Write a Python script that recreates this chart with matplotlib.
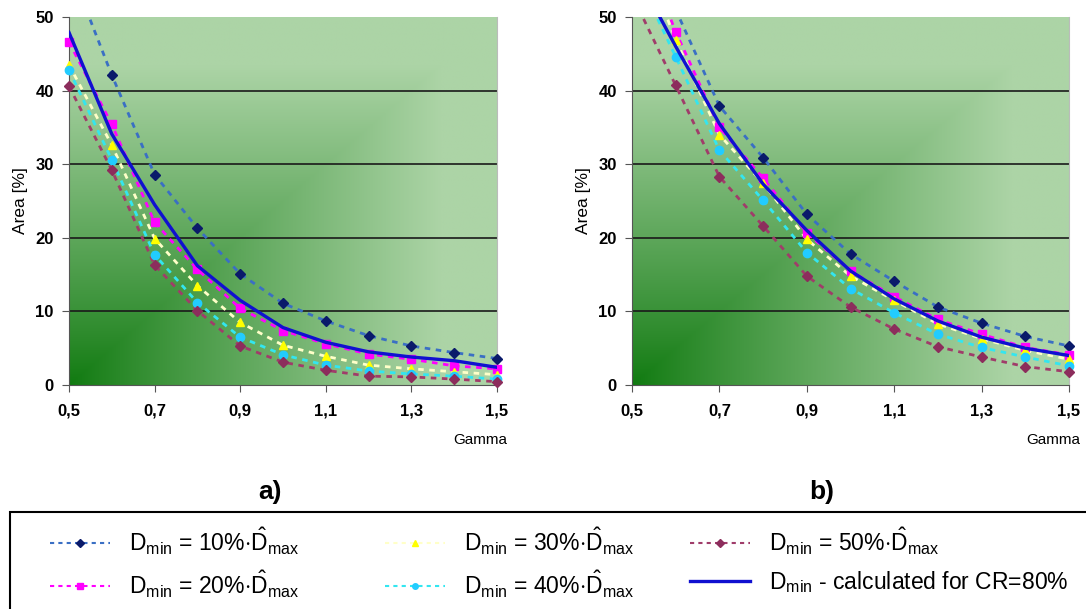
import numpy as np
import matplotlib
matplotlib.use("Agg")
import matplotlib.pyplot as plt
from matplotlib.lines import Line2D
from matplotlib.patches import Rectangle
from matplotlib.ticker import FuncFormatter

plt.rcParams['font.family'] = ['Liberation Sans', 'DejaVu Sans']
plt.rcParams['mathtext.fontset'] = 'custom'
plt.rcParams['mathtext.rm'] = 'Liberation Sans'
plt.rcParams['mathtext.it'] = 'Liberation Sans:italic'

gamma = [0.5, 0.6, 0.7, 0.8, 0.9, 1.0, 1.1, 1.2, 1.3, 1.4, 1.5]

# panel a)
a_10 = [57.0, 42.1, 28.6, 21.3, 15.1, 11.1, 8.7, 6.7, 5.3, 4.4, 3.6]
a_20 = [46.6, 35.4, 22.1, 15.7, 10.4, 7.4, 5.6, 4.2, 3.5, 2.6, 2.2]
a_30 = [43.5, 32.6, 19.9, 13.5, 8.5, 5.4, 3.9, 2.7, 2.2, 1.8, 1.4]
a_40 = [42.8, 30.6, 17.7, 11.2, 6.5, 4.1, 2.7, 1.9, 1.5, 1.2, 0.8]
a_50 = [40.6, 29.2, 16.3, 10.1, 5.3, 3.1, 2.0, 1.2, 1.1, 0.8, 0.45]
a_cr = [47.9, 34.1, 24.5, 16.2, 11.5, 7.8, 5.8, 4.5, 3.8, 3.3, 2.4]

# panel b)
b_10 = [66.0, 51.0, 37.9, 30.9, 23.2, 17.8, 14.1, 10.6, 8.4, 6.6, 5.3]
b_20 = [63.0, 48.0, 35.0, 28.1, 20.7, 15.5, 12.0, 8.9, 6.9, 5.1, 4.1]
b_30 = [62.0, 46.9, 34.0, 27.4, 19.8, 14.8, 11.5, 8.3, 6.3, 4.7, 3.5]
b_40 = [57.0, 44.6, 31.9, 25.1, 18.0, 13.1, 9.8, 6.9, 5.1, 3.8, 2.6]
b_50 = [53.0, 40.7, 28.3, 21.6, 14.8, 10.6, 7.6, 5.2, 3.8, 2.5, 1.8]
b_cr = [57.0, 46.0, 35.5, 27.3, 21.0, 15.5, 11.7, 8.7, 6.5, 5.0, 4.0]

labels = [r'D$_{\rm min}$ = 10%$\cdot\hat{\rm D}_{\rm max}$',
          r'D$_{\rm min}$ = 20%$\cdot\hat{\rm D}_{\rm max}$',
          r'D$_{\rm min}$ = 30%$\cdot\hat{\rm D}_{\rm max}$',
          r'D$_{\rm min}$ = 40%$\cdot\hat{\rm D}_{\rm max}$',
          r'D$_{\rm min}$ = 50%$\cdot\hat{\rm D}_{\rm max}$',
          r'D$_{\rm min}$ - calculated for CR=80%']

# (line colour, marker colour, marker)
styles = [('#3a6fc4', '#0a1a6a', 'D'),
          ('#ff00ff', '#ff00ff', 's'),
          ('#ffffc8', '#ffff00', '^'),
          ('#33e6f0', '#22ccff', 'o'),
          ('#a03c6a', '#8c2d5c', 'D')]
calc_color = '#1010d0'


def background(ax):
    u = np.linspace(0, 1, 300)
    X, Y = np.meshgrid(u, u)
    t = np.clip(np.maximum(X, Y) * 1.15, 0, 1) ** 0.9
    dark = np.array([16, 122, 16]) / 255
    light = np.array([172, 212, 166]) / 255
    img = dark + (light - dark) * t[..., None]
    ax.imshow(img, origin='lower', extent=[0.5, 1.5, 0, 50], aspect='auto', zorder=0)


def panel(ax, series, calc):
    background(ax)
    for y in [10, 20, 30, 40]:
        ax.axhline(y, color='#1a1a1a', lw=1.2, zorder=1)
    for vals, (lc, mc, mk) in zip(series, styles):
        v = np.array(vals)
        ax.plot(gamma, v, color=lc, lw=2, ls=(0, (2, 2)), zorder=2)
        ms = 5 if mk == 'D' else 6
        ax.plot(gamma, np.where(v <= 50, v, np.nan), ls='none', marker=mk,
                color=mc, ms=ms, clip_on=False, zorder=3)
    ax.plot(gamma, calc, color=calc_color, lw=2.4, zorder=4)
    ax.set_xlim(0.5, 1.5)
    ax.set_ylim(0, 50)
    ax.set_xticks([0.5, 0.7, 0.9, 1.1, 1.3, 1.5])
    ax.set_yticks([0, 10, 20, 30, 40, 50])
    ax.xaxis.set_major_formatter(FuncFormatter(lambda x, p: f'{x:.1f}'.replace('.', ',')))
    ax.tick_params(labelsize=12, length=5, color='#555555')
    ax.tick_params(axis='x', pad=8)
    ax.tick_params(axis='y', pad=6)
    for lab in ax.get_xticklabels() + ax.get_yticklabels():
        lab.set_fontweight('bold')
    ax.spines['top'].set_visible(False)
    ax.spines['right'].set_color('#bbbbbb')
    ax.spines['left'].set_color('#555555')
    ax.spines['bottom'].set_color('#555555')
    ax.set_ylabel('Area [%]', fontsize=12.5, labelpad=5)


fig = plt.figure(figsize=(10.86, 6.09), dpi=100)
ax1 = fig.add_axes([69 / 1086, 1 - 385 / 609, 428 / 1086, 368 / 609])
ax2 = fig.add_axes([632 / 1086, 1 - 385 / 609, 437 / 1086, 368 / 609])
panel(ax1, [a_10, a_20, a_30, a_40, a_50], a_cr)
panel(ax2, [b_10, b_20, b_30, b_40, b_50], b_cr)

fig.text(507 / 1086, 1 - 440 / 609, 'Gamma', fontsize=11, ha='right', va='center')
fig.text(1080 / 1086, 1 - 440 / 609, 'Gamma', fontsize=11, ha='right', va='center')

fig.text(0.249, 0.192, 'a)', fontsize=19, fontweight='bold', ha='center', va='center')
fig.text(0.757, 0.192, 'b)', fontsize=19, fontweight='bold', ha='center', va='center')

fig.patches.append(Rectangle((10 / 1086, -0.01), 1.2, 1 - 512 / 609 + 0.01,
                             transform=fig.transFigure, fill=False,
                             edgecolor='black', lw=1.5))

handles = []
for lc, mc, mk in styles:
    handles.append(Line2D([], [], color=lc, lw=1.5, ls=(0, (2, 2)), marker=mk,
                          markerfacecolor=mc, markeredgecolor=mc, ms=4))
handles.append(Line2D([], [], color=calc_color, lw=2.4))

# one small legend per column, so each column sits where the reference has it
for col, x0 in enumerate([50, 385, 690]):
    fig.legend(handles[2 * col:2 * col + 2], labels[2 * col:2 * col + 2],
               loc='upper left', bbox_to_anchor=(x0 / 1086, 1 - 526 / 609),
               frameon=False, fontsize=16.5, handlelength=2.6, handletextpad=0.85,
               labelspacing=0.5, borderpad=0, borderaxespad=0)

fig.savefig('out.png', dpi=100)
